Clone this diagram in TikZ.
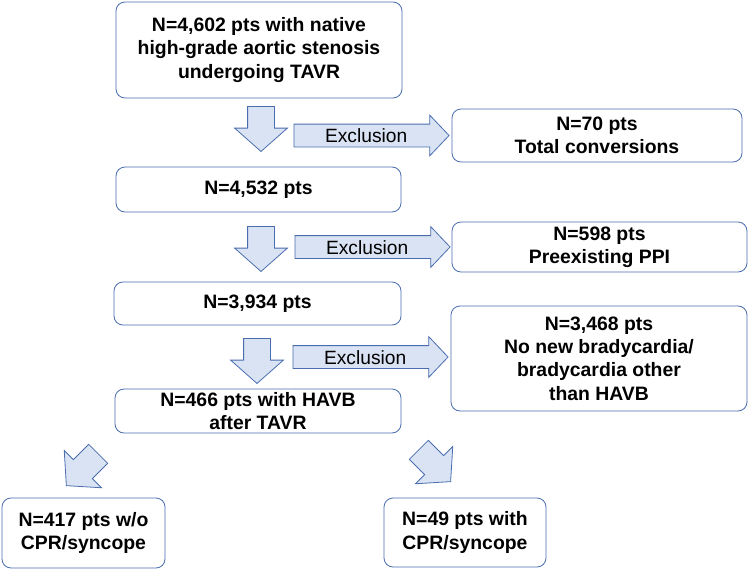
\documentclass[tikz,border=0pt]{standalone}
\usepackage{fontspec}
\setmainfont{Liberation Sans}
\usetikzlibrary{shapes.arrows}
\definecolor{boxline}{HTML}{4A6DB0}
\definecolor{arrfill}{HTML}{DAE3F3}
\definecolor{arrline}{HTML}{4A6DB0}
\begin{document}
\begin{tikzpicture}[x=1pt,y=-1pt,
	box/.style={draw=boxline,line width=0.8pt,rounded corners=9pt,align=center,inner sep=0pt,
		font=\bfseries\fontsize{19.4}{23.3}\selectfont},
	downarr/.style={single arrow,draw=arrline,fill=arrfill,line width=0.8pt,inner xsep=0pt,inner ysep=13pt,
		minimum width=52pt,minimum height=45pt,single arrow head extend=13pt,
		single arrow tip angle=97,anchor=tip},
	exarr/.style={single arrow,draw=arrline,fill=arrfill,line width=0.8pt,inner sep=0pt,
		text height=18pt,text depth=4pt,
		minimum width=40pt,minimum height=155pt,single arrow head extend=9pt,
		single arrow tip angle=93,anchor=tip,font=\fontsize{19.2}{23}\selectfont}]
	\useasboundingbox (0,0) rectangle (750,570);

	% main column
	\node[box,minimum width=286pt,minimum height=96pt] (start) at (259,50)
		{N=4,602 pts with native\\high-grade aortic stenosis\\undergoing TAVR};
	\node[box,minimum width=285pt,minimum height=45pt] (n4532) at (258.5,189.5) {N=4,532 pts};
	\node[box,minimum width=287pt,minimum height=43pt] (n3934) at (257.5,303.5) {N=3,934 pts};
	\node[box,minimum width=286pt,minimum height=44pt] (havb) at (258,411) {N=466 pts with HAVB\\after TAVR};

	% excluded
	\node[box,minimum width=290pt,minimum height=53pt] (conv) at (597,135.5) {N=70 pts\\Total conversions};
	\node[box,minimum width=295pt,minimum height=50pt] (ppi) at (599.5,247) {N=598 pts\\Preexisting PPI};
	\node[box,minimum width=296pt,minimum height=105pt] (nobrady) at (599,358.5)
		{N=3,468 pts\\No new bradycardia/\\bradycardia other\\than HAVB};

	% outcome
	\node[box,minimum width=163pt,minimum height=70pt] (nosync) at (83.5,533) {N=417 pts w/o\\CPR/syncope};
	\node[box,minimum width=162pt,minimum height=69pt] (sync) at (465,532.5) {N=49 pts with\\CPR/syncope};

	% arrows
	\node[downarr,rotate=-90] (d1) at (261,152) {};
	\node[downarr,rotate=-90] (d2) at (261,272) {};
	\node[downarr,rotate=-90] (d3) at (257,384) {};
	\node[exarr] (e1) at ([xshift=-2pt]conv.west) {Exclusion};
	\node[exarr] (e2) at ([xshift=-1pt]ppi.west) {Exclusion};
	\node[exarr] (e3) at ([xshift=-2pt,yshift=1.5pt]nobrady.west) {Exclusion};
	\node[downarr,rotate=-135] (dl) at (66,486) {};
	\node[downarr,rotate=-45] (dr) at (451,482) {};
\end{tikzpicture}
\end{document}
